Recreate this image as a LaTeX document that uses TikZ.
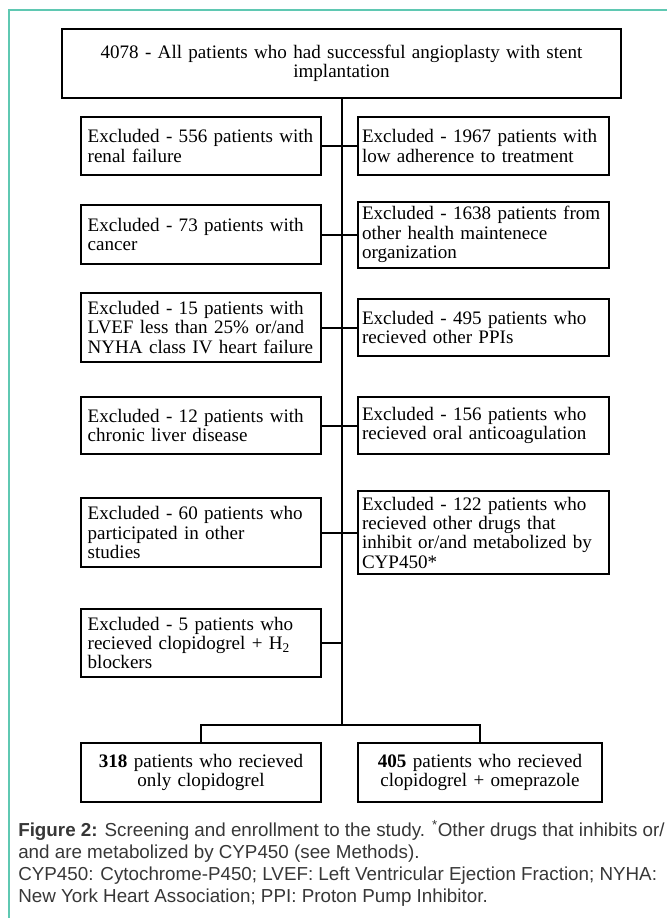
\documentclass[tikz,border=0pt]{standalone}
\usepackage{fontspec}
\setmainfont{Liberation Serif}
\newfontfamily\capfont{Liberation Sans}
\usetikzlibrary{positioning}
\definecolor{frame_teal}{RGB}{95,200,178}
\definecolor{caption_grey}{RGB}{55,55,55}
\newcommand{\boxfont}{\fontsize{14.3}{14.5}\selectfont\hyphenpenalty=10000}
\tikzset{
    top_node/.style={rectangle, draw=black, line width=1.5pt, text width=409pt, align=center, inner xsep=5pt, inner ysep=2pt, minimum height=51.75pt, font=\boxfont},
    excl_left/.style={rectangle, draw=black, line width=1.5pt, text width=170pt, align=left, inner xsep=5pt, inner ysep=2pt, font=\boxfont},
    excl_right/.style={excl_left, text width=182pt, inner xsep=3pt},
    group_node/.style={rectangle, draw=black, line width=1.5pt, text width=170pt, align=center, inner xsep=5pt, inner ysep=2pt, minimum height=44.25pt, font=\boxfont},
    line/.style={line width=1.5pt},
    frame_line/.style={draw=frame_teal, line width=1.1pt},
    caption_text/.style={align=left, inner sep=0pt, text=caption_grey, font=\capfont\fontsize{14.1}{16.4}\selectfont},
}

\begin{document}
\begin{tikzpicture}[x=0.75pt, y=-0.75pt, node distance=26.25pt]
      \useasboundingbox (0,0) rectangle (667,918);
      \draw [frame_line] (667,10) -| (9,918);

      \node (all) [top_node] at (341.5,63.5) {4078 - All patients who had successful angioplasty with stent\\implantation};

      \node (l_1) [excl_left, minimum height=43.5pt] at (201,146) {Excluded - 556 patients with\\renal failure};
      \node (l_2) [excl_left, minimum height=44.25pt] at (201,234.5) {Excluded - 73 patients with\\cancer};
      \node (l_3) [excl_left, minimum height=51.75pt] at (201,327.5) {Excluded - 15 patients with\\LVEF less than 25\% or/and\\NYHA class IV heart failure};
      \node (l_4) [excl_left, minimum height=42.75pt] at (201,425.5) {Excluded - 12 patients with\\chronic liver disease};
      \node (l_5) [excl_left, minimum height=51.75pt] at (201,532.5) {Excluded - 60 patients who\\participated in other\\studies};
      \node (l_6) [excl_left, minimum height=51pt] at (201,643) {Excluded - 5 patients who\\recieved clopidogrel + H\textsubscript{2}\\blockers};

      \node (r_1) [excl_right, minimum height=43.5pt, right = of l_1] {Excluded - 1967 patients with\\low adherence to treatment};
      \node (r_2) [excl_right, minimum height=49.5pt, right = of l_2] {Excluded - 1638 patients from\\other health maintenece\\organization};
      \node (r_3) [excl_right, minimum height=42.75pt, right = of l_3] {Excluded - 495 patients who\\recieved other PPIs};
      \node (r_4) [excl_right, minimum height=42.75pt, right = of l_4] {Excluded - 156 patients who\\recieved oral anticoagulation};
      \node (r_5) [excl_right, minimum height=62.25pt, right = of l_5] {Excluded - 122 patients who\\recieved other drugs that\\inhibit or/and metabolized by\\CYP450*};

      \coordinate (fork) at (341.5,725);
      \node (g_1) [group_node] at (201,772.5) {\textbf{318} patients who recieved\\only clopidogrel};
      \node (g_2) [group_node, text width=173pt, right = of g_1] {\textbf{405} patients who recieved\\clopidogrel + omeprazole};

      \draw [line] (all) -- (fork);
      \foreach \i in {1,...,6}
        \draw [line] (l_\i) -- (l_\i -| all);
      \foreach \i in {1,...,5}
        \draw [line] (r_\i) -- (r_\i -| all);
      \draw [line] (fork) -| (g_1);
      \draw [line] (fork) -| (g_2);

      \node (caption) [caption_text, anchor=north west] at (18,820.5) {\textbf{Figure 2:} Screening and enrollment to the study. \textsuperscript{*}Other drugs that inhibits or/\\and are metabolized by CYP450 (see Methods).\\CYP450: Cytochrome-P450; LVEF: Left Ventricular Ejection Fraction; NYHA:\\New York Heart Association; PPI: Proton Pump Inhibitor.};
\end{tikzpicture}
\end{document}
